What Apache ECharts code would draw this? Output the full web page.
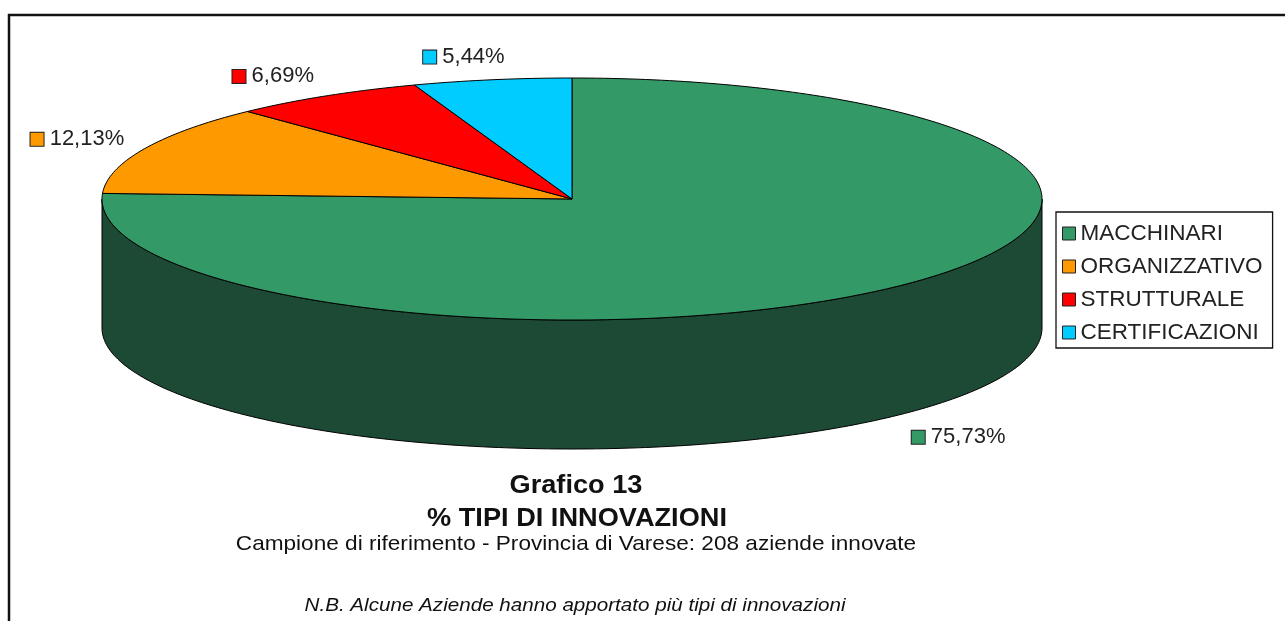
<!DOCTYPE html>
<html>
<head>
<meta charset="utf-8">
<script src="https://cdn.jsdelivr.net/npm/echarts@6/dist/echarts.min.js"></script>
<style>
  html, body { margin: 0; padding: 0; background: #fff; }
  #chart { width: 1285px; height: 621px; }
</style>
</head>
<body>
<div id="chart"></div>
<script>
// dati del grafico
const categories = ['MACCHINARI', 'ORGANIZZATIVO', 'STRUTTURALE', 'CERTIFICAZIONI']
const values = [75.73, 12.13, 6.69, 5.44]
const colors = ['#339966', '#ff9900', '#ff0000', '#00ccff']
const sideColors = ['#1d4a35', '#9a5c00', '#990000', '#007a99']

// geometria della torta 3D (ellisse + spessore)
const CX = 572, CY = 199, RX = 470, RY = 121, DEPTH = 129
const FONT = '"Liberation Sans", Arial, sans-serif'
const LABEL_FONT = '22px ' + FONT

const total = values.reduce((a, b) => a + b, 0)

// per misurare la larghezza delle etichette
const measureCtx = document.createElement('canvas').getContext('2d')

function pt(a, dy) {
  return [CX + RX * Math.sin(a), CY - RY * Math.cos(a) + (dy || 0)]
}

function arc(a0, a1, dy) {
  const pts = []
  const n = Math.max(2, Math.ceil((a1 - a0) / (Math.PI / 180)))
  for (let i = 0; i <= n; i++) pts.push(pt(a0 + (a1 - a0) * i / n, dy))
  return pts
}

function fmt(v) {
  return v.toFixed(2).replace('.', ',') + '%'
}

function renderSlice(params, api) {
  const idx = params.seriesIndex
  const v = api.value(0)
  let start = 0
  for (let i = 0; i < idx; i++) start += values[i]
  const a0 = start / total * Math.PI * 2
  const a1 = a0 + v / total * Math.PI * 2
  const children = []

  // parete laterale (solo la metà frontale è visibile)
  const s = Math.max(a0, Math.PI / 2)
  const e = Math.min(a1, Math.PI * 1.5)
  if (e > s) {
    const top = arc(s, e, 0)
    const bottom = arc(s, e, DEPTH).reverse()
    children.push({
      type: 'polygon',
      shape: { points: top.concat(bottom) },
      style: { fill: sideColors[idx], stroke: '#000', lineWidth: 1 }
    })
  }

  // faccia superiore
  children.push({
    type: 'polygon',
    shape: { points: [[CX, CY]].concat(arc(a0, a1, 0)) },
    style: { fill: colors[idx], stroke: '#000', lineWidth: 1 }
  })

  // etichetta con quadratino
  const m = (a0 + a1) / 2
  const sn = Math.sin(m), cs = Math.cos(m)
  const lx = CX + (RX + 22) * sn
  const ly = CY - (RY + (cs < 0 ? 30 : 23)) * cs + (cs < 0 ? DEPTH : 0)
  const txt = fmt(v)
  measureCtx.font = LABEL_FONT
  const w = 13 + measureCtx.measureText(' ' + txt).width
  const f = Math.min(1, Math.max(0, 0.5 - 1.76 * sn))
  children.push({
    type: 'text',
    x: lx - f * w,
    y: ly,
    style: {
      text: '{sq|} ' + txt,
      font: LABEL_FONT,
      fill: '#222',
      align: 'left',
      verticalAlign: 'middle',
      rich: {
        sq: {
          width: 13, height: 13,
          backgroundColor: colors[idx],
          borderColor: '#222', borderWidth: 1
        }
      }
    }
  })

  return { type: 'group', children }
}

const chart = echarts.init(document.getElementById('chart'))

const option = {
  animation: false,
  backgroundColor: '#fff',
  legend: {
    orient: 'vertical',
    left: 1056,
    top: 212,
    icon: 'rect',
    itemWidth: 13,
    itemHeight: 13,
    itemGap: 10,
    padding: [10, 10, 4, 6],
    borderColor: '#111',
    borderWidth: 1.3,
    itemStyle: { borderColor: '#222', borderWidth: 1 },
    textStyle: { fontSize: 22.5, lineHeight: 21, fontFamily: FONT, color: '#222' },
    data: categories
  },
  graphic: [
    {
      type: 'rect',
      silent: true,
      shape: { x: 9, y: 15, width: 1320, height: 700 },
      style: { fill: 'none', stroke: '#111', lineWidth: 2.5 }
    },
    {
      type: 'text', x: 576, y: 486, scaleX: 1.045,
      style: { text: 'Grafico 13', font: 'bold 26px ' + FONT, fill: '#111', align: 'center', verticalAlign: 'middle' }
    },
    {
      type: 'text', x: 577, y: 519, scaleX: 1.045,
      style: { text: '% TIPI DI INNOVAZIONI', font: 'bold 26px ' + FONT, fill: '#111', align: 'center', verticalAlign: 'middle' }
    },
    {
      type: 'text', x: 576, y: 544, scaleX: 1.076,
      style: { text: 'Campione di riferimento - Provincia di Varese: 208 aziende innovate', font: '21px ' + FONT, fill: '#111', align: 'center', verticalAlign: 'middle' }
    },
    {
      type: 'text', x: 575, y: 606, scaleX: 1.085,
      style: { text: 'N.B. Alcune Aziende hanno apportato più tipi di innovazioni', font: 'italic 19px ' + FONT, fill: '#111', align: 'center', verticalAlign: 'middle' }
    }
  ],
  series: categories.map((name, i) => ({
    type: 'custom',
    name,
    coordinateSystem: 'none',
    itemStyle: { color: colors[i], borderColor: '#222', borderWidth: 1 },
    renderItem: renderSlice,
    data: [[values[i]]]
  }))
}

chart.setOption(option)
</script>
</body>
</html>
